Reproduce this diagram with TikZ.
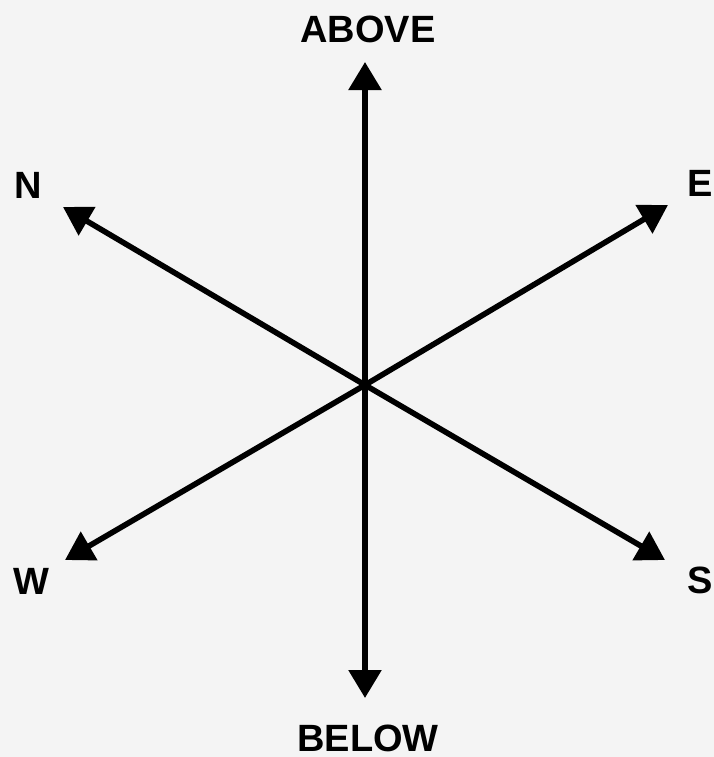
\documentclass[tikz,border=0pt]{standalone}
\usepackage{fontspec}
\setmainfont{Liberation Sans}
\usetikzlibrary{arrows.meta}
\definecolor{paper}{RGB}{244,244,244}

\begin{document}
\begin{tikzpicture}[x=0.5pt, y=-0.5pt,
  dirarrow/.style={-{Triangle[length=14pt, width=16pt]}, line width=2.8pt},
  dirlabel/.style={font=\fontsize{19}{19}\selectfont\bfseries, inner sep=0pt}]
% Background
\fill[paper] (0,0) rectangle (714,757);
\useasboundingbox (0,0) rectangle (714,757);

% Centre and arrow tips
\coordinate (o) at (365,385);
\coordinate (above) at (365,62);
\coordinate (below) at (365,698);
\coordinate (n) at (63,207);
\coordinate (e) at (668,205);
\coordinate (w) at (65,560);
\coordinate (s) at (665,560);

% Arrows
\draw[dirarrow] (o) -- (above);
\draw[dirarrow] (o) -- (below);
\draw[dirarrow] (o) -- (n);
\draw[dirarrow] (o) -- (e);
\draw[dirarrow] (o) -- (w);
\draw[dirarrow] (o) -- (s);

% Labels
\node[dirlabel] (labove) at (368,29) {ABOVE};
\node[dirlabel] (lbelow) at (368,738) {BELOW};
\node[dirlabel] (ln) at (28,185) {N};
\node[dirlabel, anchor=east] (le) at (713,183) {E};
\node[dirlabel] (lw) at (31,581) {W};
\node[dirlabel, anchor=east] (ls) at (713,580) {S};
\end{tikzpicture}
\end{document}
